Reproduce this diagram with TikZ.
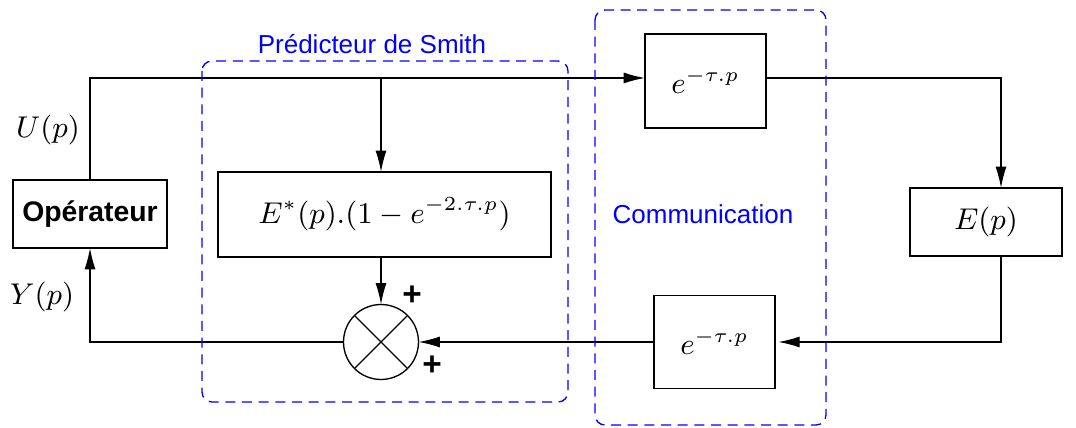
\documentclass[tikz,border=0pt]{standalone}
\usepackage{fontspec}
\setsansfont{Liberation Sans}
\usetikzlibrary{arrows.meta}

\begin{document}
\begin{tikzpicture}[x=0.3pt,y=-0.3pt,line width=0.4pt,>={Latex[length=6.4pt,width=3.3pt]},
  font=\fontsize{9.2}{11}\selectfont]
\tikzset{blk/.style={draw,outer sep=0pt,inner sep=0pt},
  sm/.style={draw,circle,outer sep=0pt,inner sep=0pt,minimum size=22.5pt},
  grp/.style={draw=blue,dash pattern=on 3pt off 2pt,rounded corners=3pt},
  bluetxt/.style={text=blue,font=\fontsize{7.8}{9}\selectfont\sffamily},
  plus/.style={font=\fontsize{10}{12}\selectfont\sffamily\bfseries}}
\useasboundingbox (0,0) rectangle (1076,428);

\path (90,214) node[blk,minimum width=46.2pt,minimum height=20.4pt,font=\fontsize{8.5}{10}\selectfont\sffamily\bfseries] (op) {Opérateur};
\path (705.5,81) node[blk,minimum width=36.3pt,minimum height=28.2pt] (d1) {$e^{-\tau.p}$};
\path (384.5,214.5) node[blk,minimum width=99.9pt,minimum height=25.5pt] (pred) {$E^*(p).(1-e^{-2.\tau.p})$};
\path (381,342) node[sm] (sum) {};
\path (986,222) node[blk,minimum width=45.6pt,minimum height=20.4pt] (ep) {$E(p)$};
\path (714.5,342) node[blk,minimum width=36.3pt,minimum height=27.9pt] (d2) {$e^{-\tau.p}$};

\coordinate (br) at (381,78);
\coordinate (cr) at (1001,78);
\coordinate (cb) at (1001,342);
\coordinate (cl) at (90,342);

% boucle
\draw[->] (op.north) |- (d1.west |- br);
\draw[->] (br) -- (pred.north -| br);
\draw[->] (pred.south -| sum) -- (sum.north);
\draw[->] (d1.east |- cr) -- (cr) -- (ep.north -| cr);
\draw[->] (ep.south -| cb) -- (cb) -- ([xshift=1pt]d2.east);
\draw[->] (d2.west) -- (sum.east);
\draw[->] (sum.west) -- (cl) -- (op.south);

\draw (sum.north west) -- (sum.south east);
\draw (sum.north east) -- (sum.south west);

\node (u) at (48,130) {$U(p)$};
\node (y) at (42,297) {$Y(p)$};
\node[plus] (p1) at (412,296) {+};
\node[plus] (p2) at (432,366) {+};

% cadres
\draw[grp] (202,61) rectangle (568,402);
\draw[grp] (595,10) rectangle (826,425);
\node[bluetxt] (smith) at (372,44) {Prédicteur de Smith};
\node[bluetxt] (com) at (703,214) {Communication};
\end{tikzpicture}
\end{document}
